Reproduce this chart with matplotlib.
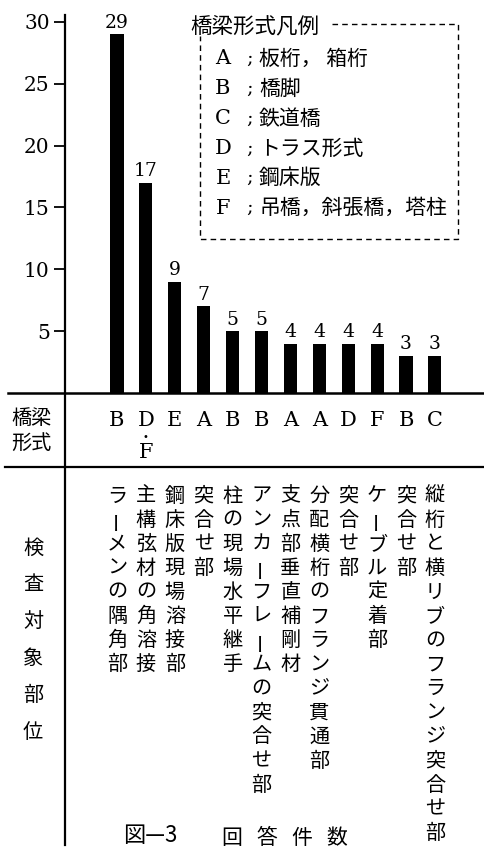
import matplotlib
matplotlib.use("Agg")
import matplotlib.pyplot as plt
import matplotlib.transforms as mtransforms

# data
counts = [29, 17, 9, 7, 5, 5, 4, 4, 4, 4, 3, 3]
bridge_type = ["B", "D", "E", "A", "B", "B", "A", "A", "D", "F", "B", "C"]
bridge_type2 = ["", "F", "", "", "", "", "", "", "", "", "", ""]
parts = [
    "ラーメンの隅角部",
    "主構弦材の角溶接",
    "鋼床版現場溶接部",
    "突合せ部",
    "柱の現場水平継手",
    "アンカーフレームの突合せ部",
    "支点部垂直補剛材",
    "分配横桁のフランジ貫通部",
    "突合せ部",
    "ケーブル定着部",
    "突合せ部",
    "縦桁と横リブのフランジ突合せ部",
]
yticks = [5, 10, 15, 20, 25, 30]
legend_keys = ["A", "B", "C", "D", "E", "F"]
legend_names = ["板桁， 箱桁", "橋脚", "鉄道橋", "トラス形式", "鋼床版", "吊橋，斜張橋，塔柱"]

JP = ["Noto Sans CJK JP", "DejaVu Sans"]
SERIF = "DejaVu Serif"

W, H = 484, 848
fig = plt.figure(figsize=(W / 100, H / 100), dpi=100)

# overlay in pixel coords for the table part
ov = fig.add_axes([0, 0, 1, 1])
ov.set_xlim(0, W)
ov.set_ylim(H, 0)
ov.axis("off")

# bar chart area
x0, base, top = 65, 393, 14
scale = 12.37  # px per count
pitch, first = 28.9, 117
ax = fig.add_axes([x0 / W, (H - base) / H, (W - x0) / W, (base - top) / H])
ax.patch.set_alpha(0)
ax.set_ylim(0, (base - top) / scale)
ax.set_xlim((x0 - first) / pitch, (W - first) / pitch)
xs = list(range(len(counts)))
ax.bar(xs, counts, width=0.45, color="black")
for x, v in zip(xs, counts):
    ax.text(x, v + 0.2, str(v), ha="center", va="bottom",
            fontsize=13.5, family=SERIF, color="black")
for s in ax.spines.values():
    s.set_visible(False)
ax.set_xticks([])
ax.set_yticks(yticks)
ax.set_yticklabels([str(t) for t in yticks], family=SERIF, fontsize=14.5)
ax.tick_params(axis="y", direction="out", length=8, width=1.3, pad=3)

# frame lines
ov.plot([x0, x0], [15, 845], color="black", lw=1.6)
ov.plot([8, W], [base, base], color="black", lw=1.8)
ov.plot([5, W], [467, 467], color="black", lw=1.6)

# x from bar data, y from pixel overlay
tr = mtransforms.blended_transform_factory(ax.transData, ov.transData)

for x, b1, b2 in zip(xs, bridge_type, bridge_type2):
    ax.text(x, 421, b1, transform=tr, ha="center", va="center",
            fontsize=15, family=SERIF, clip_on=False)
    if b2:
        ax.text(x, 437, "•", transform=tr, ha="center", va="center",
                fontsize=7, family="DejaVu Sans", clip_on=False)
        ax.text(x, 452, b2, transform=tr, ha="center", va="center",
                fontsize=15, family=SERIF, clip_on=False)

# vertical part names
for x, label in zip(xs, parts):
    for k, ch in enumerate(label):
        rot = 90 if ch == "ー" else 0
        ax.text(x, 496 + 24.1 * k, ch, transform=tr, ha="center", va="center",
                fontsize=14.5, family=JP, rotation=rot, clip_on=False)

# row headers
ov.text(31, 418, "橋梁", ha="center", va="center", fontsize=14.5, family=JP)
ov.text(31, 443, "形式", ha="center", va="center", fontsize=14.5, family=JP)
for k, ch in enumerate("検査対象部位"):
    ov.text(33, 548 + 36.8 * k, ch, ha="center", va="center", fontsize=14.5, family=JP)

# legend box
ls = (0, (4, 3))
ov.text(190, 26, "橋梁形式凡例", ha="left", va="center", fontsize=15.5, family=JP)
ov.plot([332, 458, 458, 200, 200], [24, 24, 239, 239, 36], color="black", lw=1, ls=ls)
for k, (key, name) in enumerate(zip(legend_keys, legend_names)):
    y = 59 + 29.8 * k
    ov.text(223, y, key, ha="center", va="center", fontsize=15, family=SERIF)
    ov.text(250, y, ";", ha="center", va="center", fontsize=14, family=SERIF)
    ov.text(259, y, name, ha="left", va="center", fontsize=15, family=JP)

# caption
ov.text(150, 836, "図—3", ha="center", va="center", fontsize=16, family=JP)
for k, ch in enumerate("回答件数"):
    ov.text(232 + 35 * k, 838, ch, ha="center", va="center", fontsize=15, family=JP)

fig.savefig("out.png", dpi=100)
